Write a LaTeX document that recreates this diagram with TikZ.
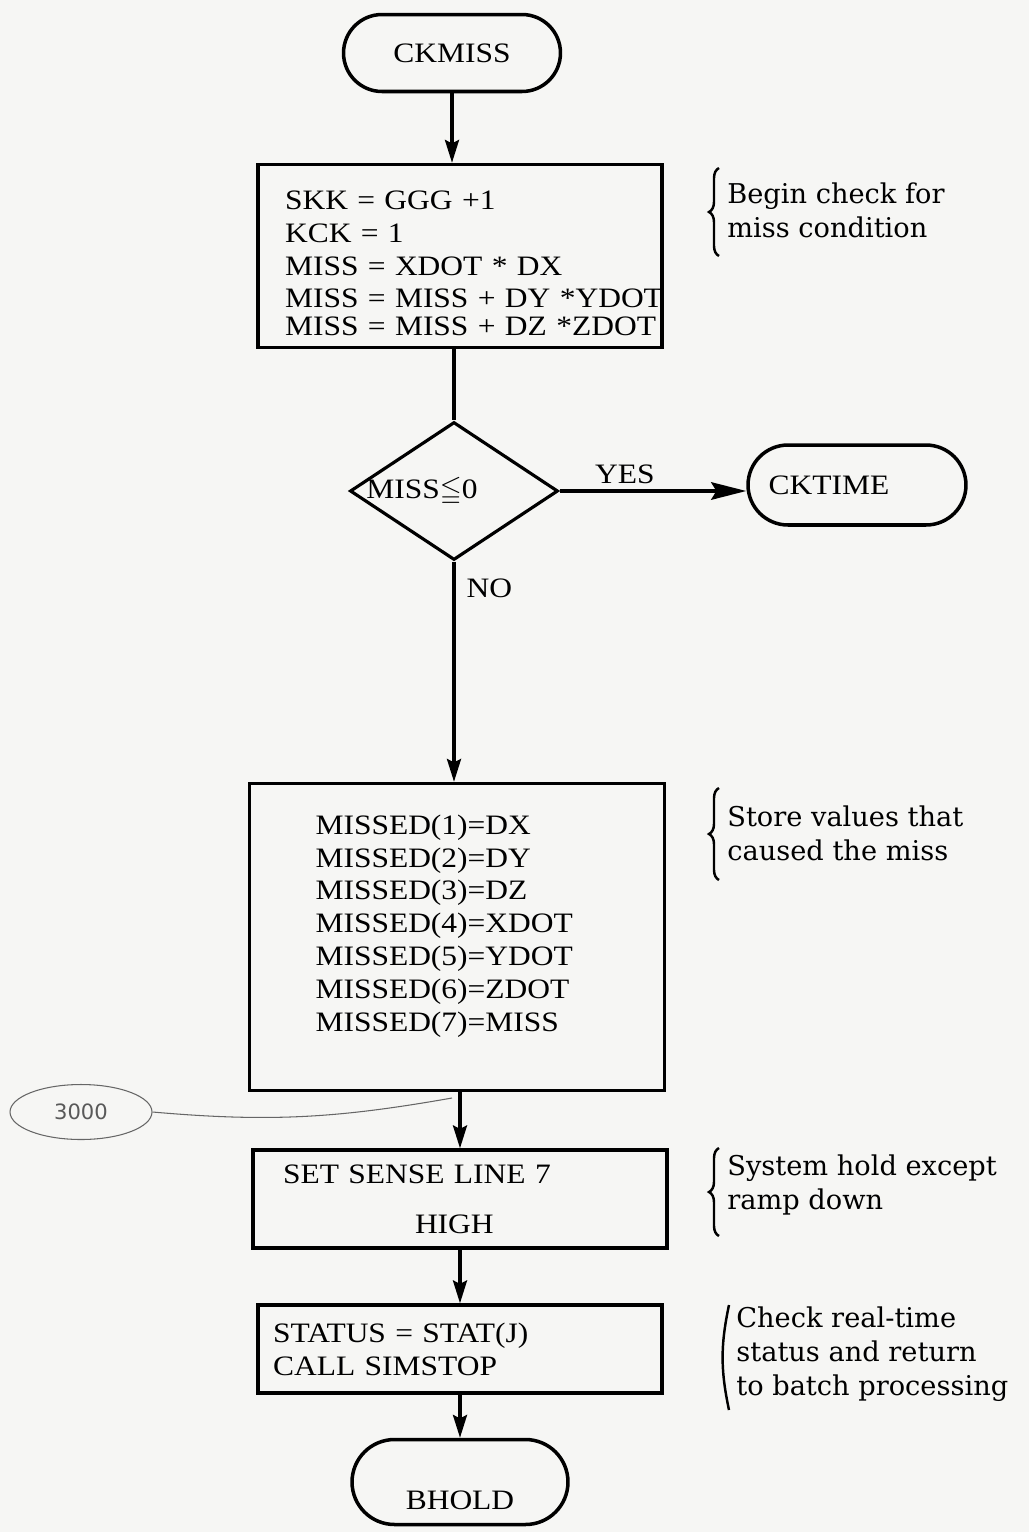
\documentclass[tikz,border=0pt]{standalone}
\usepackage{amsmath,amssymb}
\usepackage{fontspec}
\setmainfont{Liberation Serif}[FakeStretch=1.12]
\newfontfamily\notefont{DejaVu Serif}
\newfontfamily\handfont{DejaVu Sans}
\usetikzlibrary{arrows.meta,shapes.geometric,shapes.misc,
                decorations.pathreplacing,calc}
\definecolor{paper}{HTML}{F6F6F4}

\begin{document}
\begin{tikzpicture}[x=0.02cm,y=-0.02cm,
    every node/.style={font=\fontsize{16}{18.7}\selectfont},
    term/.style={draw,rounded rectangle,line width=2pt,inner sep=0pt},
    proc/.style={draw,rectangle,line width=2pt,align=left,inner ysep=2pt},
    decision/.style={draw,diamond,line width=1.8pt,inner sep=0pt},
    flow/.style={line width=1.8pt,-{Stealth[length=13pt,width=8pt,inset=2pt]}},
    note/.style={anchor=west,align=left,inner sep=0pt,
                 font=\notefont\fontsize{15.5}{19.3}\selectfont},
    notebrace/.style={decorate,decoration={brace,amplitude=0.2cm},line width=1.4pt},
    memo/.style={draw=black!60,ellipse,line width=0.6pt,minimum width=2.84cm,
                 minimum height=1.1cm,text=black!65,
                 font=\handfont\fontsize{12}{14}\selectfont}]
  \fill[paper] (0,0) rectangle (1029,1532);
  \useasboundingbox (0,0) rectangle (1029,1532);

  % Terminals
  \node[term,minimum width=4.34cm,minimum height=1.54cm] (ckmiss) at (452,53) {CKMISS};
  \node[term,minimum width=4.36cm,minimum height=1.6cm] (cktime) at (857,485)
    {\makebox[0pt]{CKTIME\hspace*{1.12cm}}};
  \node[term,minimum width=4.32cm,minimum height=1.7cm] (bhold) at (460,1482)
    {\raisebox{-0.54cm}[0pt][0pt]{BHOLD}};

  % Process boxes
  \node[proc,minimum width=8.08cm,minimum height=3.66cm,text width=7.0cm,inner xsep=0.54cm]
    (init) at (460,256)
    {\rule{0pt}{0.66cm}SKK = GGG +1\\ KCK = 1\\ MISS = XDOT * DX\\
     \mbox{MISS = MISS + DY *YDOT}\\[-3pt] \mbox{MISS = MISS + DZ *ZDOT}};
  \node[decision,minimum width=4.16cm,minimum height=2.76cm] (test) at (454,491)
    {\makebox[0pt]{MISS$\leqq$0\hspace*{1.28cm}}};
  \node[proc,minimum width=8.3cm,minimum height=6.14cm,text width=5.66cm,inner xsep=1.32cm]
    (store) at (457,937)
    {MISSED(1)=DX\\ MISSED(2)=DY\\ MISSED(3)=DZ\\ MISSED(4)=XDOT\\
     MISSED(5)=YDOT\\ MISSED(6)=ZDOT\\ MISSED(7)=MISS\rule[-0.56cm]{0pt}{0.1cm}};
  \node[proc,minimum width=8.28cm,minimum height=1.96cm,text width=7.08cm,inner xsep=0.6cm]
    (sense) at (460,1199)
    {SET SENSE LINE 7\\[0.34cm]\hspace*{2.64cm}HIGH};
  \node[proc,minimum width=8.08cm,minimum height=1.76cm,text width=7.48cm,inner xsep=0.3cm]
    (stop) at (460,1349)
    {STATUS = STAT(J)\\ CALL SIMSTOP};

  % Connections
  \draw[flow] (ckmiss.south) -- (ckmiss.south |- init.north);
  \draw[line width=1.8pt] (test.north |- init.south) -- (test.north);
  \draw[flow,-{Stealth[length=20pt,width=10pt,inset=3pt]}] (test.east)
    -- node[above,pos=0.35] (yes) {YES} (test.east -| cktime.west);
  \draw[flow] (test.south) -- node[right,pos=0.12,xshift=3pt] (no) {NO} (test.south |- store.north);
  \foreach \a/\b in {store/sense,sense/stop,stop/bhold} {
    \draw[flow] (\b.north |- \a.south) -- (\b.north);
  }

  % Handwritten label
  \node[memo] (memo) at (81,1112) {3000};
  \coordinate (hook) at (452,1098);
  \draw[black!60,line width=0.6pt] (memo.east) to[out=-5,in=190] (hook);

  % Remarks
  \node[note] (noteInit) at (727,210) {Begin check for\\miss condition};
  \draw[notebrace] (719,256) -- (719,168);
  \node[note] (noteStore) at (727,833) {Store values that\\caused the miss};
  \draw[notebrace] (719,880) -- (719,788);
  \node[note] (noteHold) at (727,1185) {System hold except\\ramp down};
  \draw[notebrace] (719,1236) -- (719,1148);
  \node[note] (noteStop) at (736,1354) {Check real-time\\status and return\\to batch processing};
  \draw[line width=1.4pt] (729,1305) to[bend right=12] (729,1410);
\end{tikzpicture}
\end{document}
